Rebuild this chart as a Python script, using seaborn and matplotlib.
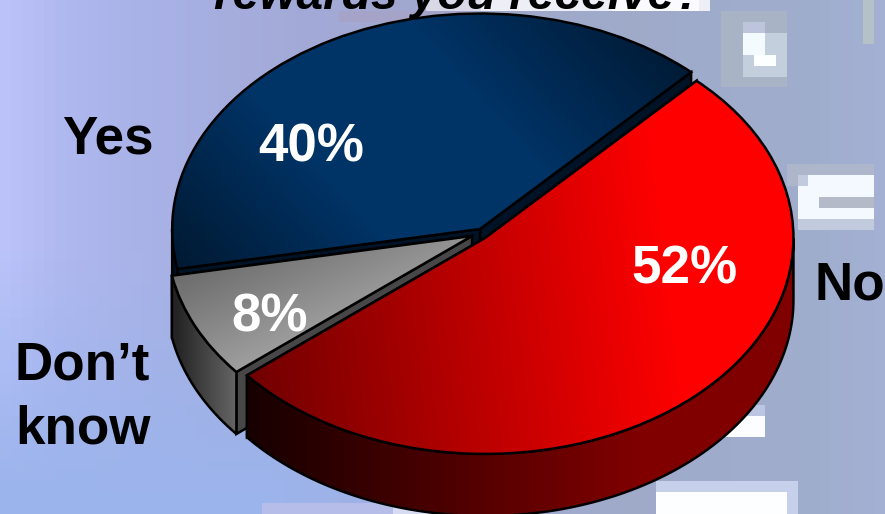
import numpy as np
import matplotlib
matplotlib.use("Agg")
import matplotlib.pyplot as plt
from matplotlib.colors import to_rgb
from matplotlib.patches import Polygon
import seaborn as sns

# Survey answers
categories = ["No", "Don\u2019t\nknow", "Yes"]
shares = [52, 8, 40]
question = "rewards you receive?"

W, H = 885, 514
X_UNIT, Y_UNIT = 310.0, 217.0
ORIGIN = (478.0, 235.0)
START_ANGLE = 46.7
DEPTH = 62 / Y_UNIT
FONT = "Liberation Sans"
EDGE = 1.8

sns.set_theme(style="white")
plt.rcParams["font.family"] = [FONT, "DejaVu Sans"]


def ux(px):
    return (px - ORIGIN[0]) / X_UNIT


def uy(py):
    return (ORIGIN[1] - py) / Y_UNIT


fig = plt.figure(figsize=(W / 100, H / 100), dpi=100)
ax = fig.add_axes([0, 0, 1, 1])
LIMITS = (ux(0), ux(W), uy(H), uy(0))


def backdrop():
    """Blocky, low-resolution photo-like backdrop."""
    cell = 11
    nx, ny = W // cell + 1, H // cell + 1
    xs = (np.arange(nx) + 0.5) * cell
    ys = (np.arange(ny) + 0.5) * cell
    stops_x = [0, 60, 150, 300, 500, 800, 885]
    stops_c = ["#bcc4fb", "#b0b9f0", "#a9b2e6", "#a3aad8", "#a0a8c8", "#9fadcc", "#a3b0d4"]
    stops_rgb = np.array([to_rgb(c) for c in stops_c])
    img = np.stack([np.interp(xs, stops_x, stops_rgb[:, i]) for i in range(3)], axis=1)
    img = np.repeat(img[None, :, :], ny, axis=0)

    low = np.array(to_rgb("#9cb4ec"))
    for j, y in enumerate(ys):
        for i, x in enumerate(xs):
            t = np.clip((y - 250) / 240, 0, 1) * np.clip((620 - x) / 350, 0, 1)
            img[j, i] = img[j, i] * (1 - t) + low * t

    patches = [
        # x0, y0, x1, y1, colour
        (730, 15, 790, 85, "#a9b3c6"),
        (745, 20, 770, 40, "#bcc5dc"),
        (745, 35, 790, 80, "#c4cfdd"),
        (745, 38, 770, 55, "#f4fbff"),
        (755, 50, 778, 70, "#fbffff"),
        (790, 170, 885, 185, "#adb6ca"),
        (800, 180, 885, 235, "#c2cbdd"),
        (810, 178, 885, 198, "#f4f8ff"),
        (806, 190, 830, 222, "#f4f8ff"),
        (820, 212, 885, 222, "#f4f8ff"),
        (830, 198, 885, 212, "#b5bac9"),
        (870, 0, 885, 40, "#b4c2c8"),
        (875, 0, 885, 18, "#f6ffff"),
        (710, 410, 770, 445, "#bcc6e2"),
        (725, 422, 766, 438, "#fbfdff"),
        (655, 488, 800, 514, "#c6d0ea"),
        (665, 495, 790, 514, "#fcfeff"),
        (262, 505, 400, 514, "#b5bde8"),
        (400, 505, 500, 514, "#d7dcf2"),
        (340, 12, 470, 25, "#a5a3c8"),
        (430, 4, 560, 14, "#d8d8e6"),
        (480, 0, 720, 12, "#eeeef6"),
        (620, 0, 700, 8, "#fafaff"),
    ]
    for x0, y0, x1, y1, colour in patches:
        mask_x = (xs > x0) & (xs < x1)
        mask_y = (ys > y0) & (ys < y1)
        img[np.ix_(mask_y, mask_x)] = to_rgb(colour)
    ax.imshow(img, extent=LIMITS, origin="upper", aspect="auto",
              interpolation="nearest", zorder=0)


def shade(artist, colours, direction, span, z):
    """Fill an artist's outline with a linear gradient running along a pixel direction."""
    cmap = sns.blend_palette(colours, as_cmap=True)
    px, py = np.meshgrid(np.linspace(0, W, 222), np.linspace(0, H, 130))
    t = (px * direction[0] + py * direction[1] - span[0]) / (span[1] - span[0])
    img = ax.imshow(np.clip(t, 0, 1), cmap=cmap, vmin=0, vmax=1, extent=LIMITS,
                    origin="upper", aspect="auto", interpolation="bilinear", zorder=z)
    img.set_clip_path(artist)


def rim(cx, cy, r, a0, a1):
    angles = np.radians(np.linspace(a0, a1, 120))
    return cx + r * np.cos(angles), cy + r * np.sin(angles)


def outline(points, z):
    poly = Polygon(points, closed=True, facecolor="none", edgecolor="black",
                   linewidth=EDGE, joinstyle="round", zorder=z)
    ax.add_patch(poly)
    return poly


def draw_slice(value, a0, centre, radius, top, top_dir, top_span,
               wall, wall_dir, wall_span, face, z):
    """One exploded slice: cut faces, outer wall, then the top surface."""
    a1 = a0 - value * 3.6
    cx, cy = ux(centre[0]), uy(centre[1])

    # flat faces exposed by the cuts; the trailing face goes behind the leading one
    for ang in (a1, a0):
        rx, ry = rim(cx, cy, radius, ang, ang)
        quad = [(cx, cy), (rx[0], ry[0]), (rx[0], ry[0] - DEPTH), (cx, cy - DEPTH)]
        p = Polygon(quad, closed=True, facecolor=face, edgecolor="black",
                    linewidth=EDGE, zorder=z)
        ax.add_patch(p)

    # outer wall: only the part of the rim facing the viewer
    lo, hi = max(min(a0, a1), -180), min(max(a0, a1), 0)
    if hi > lo:
        rx, ry = rim(cx, cy, radius, hi, lo)
        pts = np.column_stack([np.r_[rx, rx[::-1]], np.r_[ry, ry[::-1] - DEPTH]])
        poly = outline(pts, z + 0.3)
        shade(poly, wall, wall_dir, wall_span, z + 0.2)

    # top surface through the pie routine, one wedge at a time
    wedges, _ = ax.pie([value / 100], normalize=False, startangle=a0, counterclock=False,
                       center=(cx, cy), radius=radius, frame=True,
                       wedgeprops=dict(facecolor="none", edgecolor="black", linewidth=EDGE))
    wedge = wedges[0]
    wedge.set_zorder(z + 0.6)
    shade(wedge, top, top_dir, top_span, z + 0.5)


backdrop()

no_share, unsure_share, yes_share = shares
start_unsure = START_ANGLE - no_share * 3.6
start_yes = start_unsure - unsure_share * 3.6

draw_slice(yes_share, start_yes, (480, 229), 0.993,
           ["#001a33", "#003366", "#003366", "#001c38"], (1, -0.9), (-60, 620),
           ["#000f20", "#001a33"], (1, 0), (170, 300), "#001326", 2)
draw_slice(unsure_share, start_unsure, (472, 236), 0.985,
           ["#626262", "#b0b0b0"], (0.45, 1), (330, 520),
           ["#242424", "#6a6a6a"], (1, 0), (175, 240), "#474747", 3)
draw_slice(no_share, START_ANGLE, (485, 238), 0.995,
           ["#700000", "#ff0000"], (1, -0.12), (200, 640),
           ["#180000", "#800000"], (1, 0), (250, 640), "#200000", 4)

ax.set_aspect("auto")
ax.set_xlim(LIMITS[0], LIMITS[1])
ax.set_ylim(LIMITS[2], LIMITS[3])
ax.set_xticks([])
ax.set_yticks([])
for spine in ax.spines.values():
    spine.set_visible(False)

base = dict(fontfamily=FONT, fontweight="bold", fontsize=38.2, zorder=10,
            ha="left", va="baseline")

# question line, cropped by the top edge
ax.text(ux(459), uy(9), question, color="black", ha="center", va="baseline",
        fontfamily=FONT, fontweight="bold", fontstyle="italic", fontsize=34.5, zorder=10)

# category labels
no_label, unsure_label, yes_label = categories
ax.text(ux(62), uy(154), yes_label, color="black", **base)
ax.text(ux(815), uy(299), no_label, color="black", **base)
first, second = unsure_label.split("\n")
ax.text(ux(15), uy(380), first, color="black", **base)
ax.text(ux(15), uy(443), second, color="black", **base)

# share labels on the slices
ax.text(ux(258), uy(161), f"{yes_share}%", color="white", **base)
ax.text(ux(631), uy(284), f"{no_share}%", color="white", **base)
ax.text(ux(231), uy(331), f"{unsure_share}%", color="white", **base)

fig.savefig("out.png", dpi=100)
